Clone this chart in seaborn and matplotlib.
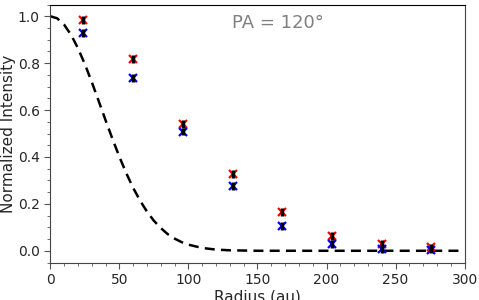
import matplotlib
matplotlib.use("Agg")
import matplotlib.pyplot as plt
import seaborn as sns
import pandas as pd
from matplotlib.ticker import MultipleLocator

radius = [24, 60, 96, 132, 168, 204, 240, 276]
red_vals = [0.983, 0.817, 0.540, 0.328, 0.164, 0.064, 0.030, 0.016]
red_err = [0.017, 0.017, 0.017, 0.017, 0.017, 0.017, 0.017, 0.015]
blue_vals = [0.928, 0.736, 0.508, 0.277, 0.106, 0.030, 0.008, 0.004]
blue_err = [0.016, 0.016, 0.016, 0.016, 0.016, 0.018, 0.016, 0.014]

beam_x = [0, 5, 10, 15, 20, 25, 30, 35, 40, 45, 50, 55, 60, 65, 70, 75, 80, 85,
          90, 95, 100, 110, 120, 130, 140, 150, 300]
beam_y = [1.0, 0.991, 0.964, 0.921, 0.864, 0.796, 0.720, 0.639, 0.557, 0.477,
          0.401, 0.331, 0.268, 0.214, 0.167, 0.128, 0.097, 0.071, 0.052, 0.037,
          0.026, 0.012, 0.005, 0.002, 0.001, 0.0, 0.0]

sns.set_style("ticks")
plt.rcParams['font.family'] = ['DejaVu Sans']

fig, ax = plt.subplots(figsize=(4.79, 3.0), dpi=100)
fig.subplots_adjust(left=0.105, right=0.97, top=0.985, bottom=0.125)

beam = pd.DataFrame({"x": beam_x, "y": beam_y})
sns.lineplot(data=beam, x="x", y="y", ax=ax, color="black", linestyle=(0, (4, 2.5)),
             linewidth=1.8)

for vals, errs, col in [(red_vals, red_err, "red"), (blue_vals, blue_err, "blue")]:
    ax.plot(radius, vals, linestyle="none", marker="x", color=col,
            markersize=5.5, markeredgewidth=1.6, zorder=3)
    ax.errorbar(radius, vals, yerr=errs, fmt="none", ecolor="black", elinewidth=2.5,
                capsize=0, zorder=4)

ax.set_xlim(0, 300)
ax.set_ylim(-0.05, 1.05)
ax.xaxis.set_major_locator(MultipleLocator(50))
ax.xaxis.set_minor_locator(MultipleLocator(10))
ax.yaxis.set_major_locator(MultipleLocator(0.2))
ax.yaxis.set_minor_locator(MultipleLocator(0.05))
ax.tick_params(axis="both", which="major", labelsize=10, length=4, color="#555555")
ax.tick_params(axis="both", which="minor", length=2, color="#555555")
ax.set_xlabel("Radius (au)", fontsize=11, labelpad=2)
ax.set_ylabel("Normalized Intensity", fontsize=11, labelpad=1)
for s in ax.spines.values():
    s.set_visible(True)
    s.set_color("#444444")
ax.spines["top"].set_color("black")
ax.text(0.55, 0.93, "PA = 120°", transform=ax.transAxes, fontsize=13,
        color="gray", ha="center", va="center")

fig.savefig("out.png", dpi=100)
